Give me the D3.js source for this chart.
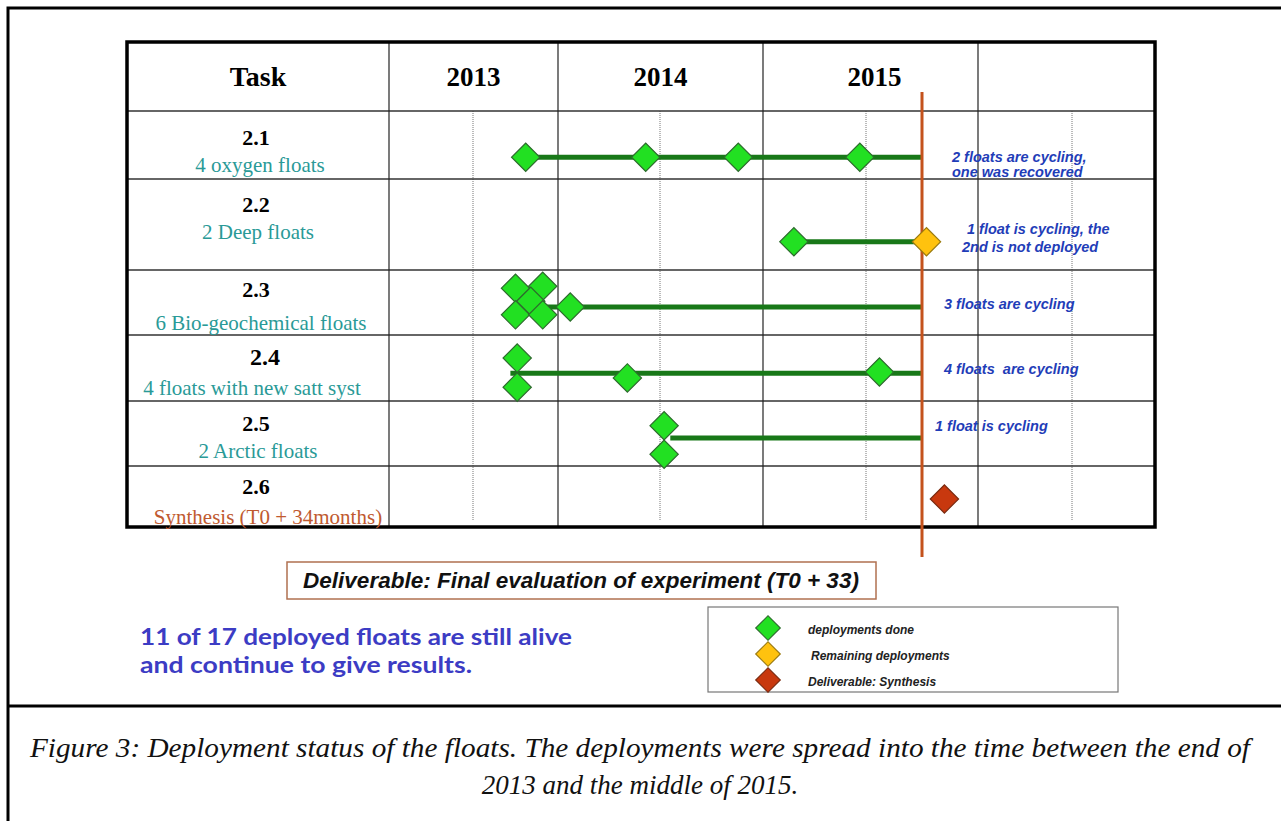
<!DOCTYPE html>
<html>
<head>
<meta charset="utf-8">
<script src="https://cdn.jsdelivr.net/npm/d3@7"></script>
<style>
  body { margin: 0; background: #fff; }
  text { white-space: pre; }
</style>
</head>
<body>
<svg width="1281" height="821"></svg>
<script>
// header labels and tasks
var years = ["2013", "2014", "2015", ""];
var taskIds = ["2.1", "2.2", "2.3", "2.4", "2.5", "2.6"];
var taskNames = ["4 oxygen floats", "2 Deep floats", "6 Bio-geochemical floats",
    "4 floats with new satt syst", "2 Arctic floats", "Synthesis (T0 + 34months)"];

// deployments: task row, date (fractional year), lane inside the row (0 = top, 1 = bottom)
var doneDeployments = [
    {task: 0, date: 2013.81, lane: 0.68}, {task: 0, date: 2014.43, lane: 0.68},
    {task: 0, date: 2014.88, lane: 0.68}, {task: 0, date: 2015.47, lane: 0.68},
    {task: 1, date: 2015.15, lane: 0.69},
    {task: 2, date: 2013.75, lane: 0.28}, {task: 2, date: 2013.91, lane: 0.25},
    {task: 2, date: 2013.84, lane: 0.48}, {task: 2, date: 2013.75, lane: 0.69},
    {task: 2, date: 2013.91, lane: 0.69}, {task: 2, date: 2014.06, lane: 0.57},
    {task: 3, date: 2013.76, lane: 0.35}, {task: 3, date: 2013.76, lane: 0.79},
    {task: 3, date: 2014.34, lane: 0.65}, {task: 3, date: 2015.56, lane: 0.56},
    {task: 4, date: 2014.52, lane: 0.38}, {task: 4, date: 2014.52, lane: 0.82}
];
var remainingDeployments = [{task: 1, date: 2015.77, lane: 0.69}];
var deliverables = [{task: 5, date: 2015.85, lane: 0.54}];

// float lifelines run from first deployment to the status date
var lifelines = [
    {task: 0, from: 2013.81, lane: 0.68}, {task: 1, from: 2015.15, lane: 0.69},
    {task: 2, from: 2013.93, lane: 0.57}, {task: 3, from: 2013.72, lane: 0.58},
    {task: 4, from: 2014.55, lane: 0.57}
];
var statusDate = 2015.75;

var statusNotes = [
    ["2 floats are cycling,", "one was recovered"],
    ["1 float is cycling, the", "2nd is not deployed"],
    ["3 floats are cycling"],
    ["4 floats  are cycling"],
    ["1 float is cycling"]
];
var legendLabels = ["deployments done", "Remaining deployments", "Deliverable: Synthesis"];

var svg = d3.select("svg");

var serif = "'Liberation Serif', 'Times New Roman', serif";
var sans = "'Liberation Sans', Arial, sans-serif";

// outer frame of the figure
svg.append("path")
    .attr("d", "M8,821 V8 H1281")
    .attr("fill", "none").attr("stroke", "#000").attr("stroke-width", 3);
svg.append("line")
    .attr("x1", 8).attr("x2", 1281).attr("y1", 706).attr("y2", 706)
    .attr("stroke", "#000").attr("stroke-width", 3);

// table geometry
var tableLeft = 127, tableTop = 42;
var x = d3.scaleLinear()
    .domain([2013, 2013.5, 2014, 2014.5, 2015, 2015.5, 2016, 2016.5, 2017])
    .range([389, 473, 558, 660, 763, 866, 978, 1072, 1155]);
var y = d3.scaleLinear()
    .domain([0, 1, 2, 3, 4, 5, 6])
    .range([111, 179, 270, 335, 401, 466, 527]);
var tableRight = x(2017), tableBottom = y(6);
function rowY(task, lane) { return y(task + lane); }

var grid = svg.append("g");

// half-year dotted lines
grid.selectAll(".half").data([2013.5, 2014.5, 2015.5, 2016.5]).enter().append("line")
    .attr("x1", d => x(d)).attr("x2", d => x(d))
    .attr("y1", y(0)).attr("y2", tableBottom - 7)
    .attr("stroke", "#777").attr("stroke-width", 1).attr("stroke-dasharray", "1,1");

// row lines
grid.selectAll(".row").data(d3.range(0, 6)).enter().append("line")
    .attr("x1", tableLeft).attr("x2", tableRight)
    .attr("y1", d => y(d)).attr("y2", d => y(d))
    .attr("stroke", "#333").attr("stroke-width", 1.5);

// column lines
grid.selectAll(".col").data([2013, 2014, 2015, 2016]).enter().append("line")
    .attr("x1", d => x(d)).attr("x2", d => x(d))
    .attr("y1", tableTop).attr("y2", tableBottom)
    .attr("stroke", "#222").attr("stroke-width", 1.2);

// thick table border
grid.append("rect")
    .attr("x", tableLeft).attr("y", tableTop)
    .attr("width", tableRight - tableLeft).attr("height", tableBottom - tableTop)
    .attr("fill", "none").attr("stroke", "#000").attr("stroke-width", 3.5);

// header
var headY = (tableTop + y(0)) / 2 + 9;
svg.append("text")
    .attr("x", (tableLeft + x(2013)) / 2).attr("y", headY)
    .attr("text-anchor", "middle")
    .style("font-family", serif).style("font-weight", "bold").style("font-size", "28px")
    .text("Task");
svg.selectAll(".year").data(years).enter().append("text")
    .attr("x", (d, i) => (x(2013 + i) + x(2014 + i)) / 2 + (i == 2 ? 4 : 0))
    .attr("y", headY)
    .attr("text-anchor", "middle")
    .style("font-family", serif).style("font-weight", "bold").style("font-size", "27px")
    .text(d => d);

// task labels
var numLane = [0.38, 0.28, 0.29, 0.33, 0.34, 0.34];
var nameLane = [0.8, 0.59, 0.83, 0.82, 0.78, 0.84];
var labelShift = [2, 0, 3, -6, 0, 10];
var nameColor = ["#2a9a97", "#2a9a97", "#2a9a97", "#2a9a97", "#2a9a97", "#c05a30"];

svg.selectAll(".tid").data(taskIds).enter().append("text")
    .attr("x", (d, i) => 256 + (i == 3 ? 9 : 0))
    .attr("y", (d, i) => rowY(i, numLane[i]))
    .attr("dy", "0.35em")
    .attr("text-anchor", "middle")
    .style("font-family", serif).style("font-weight", "bold")
    .style("font-size", (d, i) => i == 3 ? "24px" : "22px")
    .text(d => d);
svg.selectAll(".tname").data(taskNames).enter().append("text")
    .attr("x", (d, i) => 258 + labelShift[i])
    .attr("y", (d, i) => rowY(i, nameLane[i]))
    .attr("dy", "0.3em")
    .attr("text-anchor", "middle")
    .style("font-family", serif).style("font-size", "21px")
    .attr("fill", (d, i) => nameColor[i])
    .text(d => d);

// lifelines
svg.selectAll(".life").data(lifelines).enter().append("line")
    .attr("x1", d => x(d.from)).attr("x2", x(statusDate))
    .attr("y1", d => rowY(d.task, d.lane)).attr("y2", d => rowY(d.task, d.lane))
    .attr("stroke", "#187818").attr("stroke-width", 5);

// status line
svg.append("line")
    .attr("x1", x(statusDate)).attr("x2", x(statusDate))
    .attr("y1", 92).attr("y2", 557)
    .attr("stroke", "#c4521c").attr("stroke-width", 3);

// diamonds
var diamond = d3.symbol().type(d3.symbolSquare).size(400);
function drawDiamonds(data, fill, stroke) {
    svg.append("g").selectAll("path").data(data).enter().append("path")
        .attr("d", diamond)
        .attr("transform", d => "translate(" + x(d.date) + "," + rowY(d.task, d.lane) + ") rotate(45)")
        .attr("fill", fill).attr("stroke", stroke).attr("stroke-width", 1.2);
}
drawDiamonds(doneDeployments, "#22e022", "#2d6b2d");
drawDiamonds(remainingDeployments, "#ffc20e", "#9a7a10");
drawDiamonds(deliverables, "#c8380e", "#7a2a10");

// status notes
var noteX = [[952, 952], [967, 962], [944], [944], [935]];
var noteY = [[157, 172], [229, 247], [304], [369], [426]];
statusNotes.forEach(function (lines, i) {
    lines.forEach(function (t, j) {
        svg.append("text")
            .attr("x", noteX[i][j]).attr("y", noteY[i][j]).attr("dy", "0.35em")
            .style("font-family", sans).style("font-style", "italic").style("font-weight", "bold")
            .style("font-size", "14.5px").attr("fill", "#1f3db8")
            .text(t);
    });
});

// deliverable box
svg.append("rect")
    .attr("x", 287).attr("y", 562).attr("width", 589).attr("height", 37)
    .attr("fill", "#fff").attr("stroke", "#b07050").attr("stroke-width", 1.5);
svg.append("text")
    .attr("x", 581).attr("y", 580).attr("dy", "0.35em").attr("text-anchor", "middle")
    .style("font-family", sans).style("font-style", "italic").style("font-weight", "bold")
    .style("font-size", "22.5px").attr("fill", "#111")
    .text("Deliverable: Final evaluation of experiment (T0 + 33)");

// summary
var summary = ["11 of 17 deployed floats are still alive", "and continue to give results."];
var summaryWidth = [432, 332];
summary.forEach(function (t, i) {
    svg.append("text")
        .attr("x", 140).attr("y", 645 + i * 28)
        .attr("textLength", summaryWidth[i]).attr("lengthAdjust", "spacingAndGlyphs")
        .style("font-family", "Lato, 'Open Sans', sans-serif").style("font-weight", "bold")
        .style("font-size", "23.5px").attr("fill", "#3c3cc4")
        .text(t);
});

// legend
var leg = svg.append("g");
leg.append("rect")
    .attr("x", 708).attr("y", 607).attr("width", 410).attr("height", 85)
    .attr("fill", "#fff").attr("stroke", "#777").attr("stroke-width", 1.2);
var legFill = ["#22e022", "#ffc20e", "#c8380e"];
var legStroke = ["#2d6b2d", "#9a7a10", "#7a2a10"];
var legY = d3.scalePoint().domain(legendLabels).range([628, 680]);
var legDiamond = d3.symbol().type(d3.symbolSquare).size(300);
leg.selectAll("path").data(legendLabels).enter().append("path")
    .attr("d", legDiamond)
    .attr("transform", d => "translate(768," + legY(d) + ") rotate(45)")
    .attr("fill", (d, i) => legFill[i]).attr("stroke", (d, i) => legStroke[i]).attr("stroke-width", 1.2);
leg.selectAll("text").data(legendLabels).enter().append("text")
    .attr("x", (d, i) => i == 1 ? 811 : 808).attr("y", d => legY(d) + 2).attr("dy", "0.35em")
    .style("font-family", sans).style("font-style", "italic").style("font-weight", "bold")
    .style("font-size", "12px").attr("fill", "#222")
    .text(d => d);

// caption
var caption = ["Figure 3: Deployment status of the floats. The deployments were spread into the time between the end of",
    "2013 and the middle of 2015."];
caption.forEach(function (t, i) {
    var c = svg.append("text")
        .attr("x", 640).attr("y", 757 + i * 37).attr("text-anchor", "middle")
        .style("font-family", serif).style("font-style", "italic").style("font-size", "27px")
        .attr("fill", "#111")
        .text(t);
    if (i == 0) c.attr("textLength", 1220).attr("lengthAdjust", "spacingAndGlyphs");
});
</script>
</body>
</html>
